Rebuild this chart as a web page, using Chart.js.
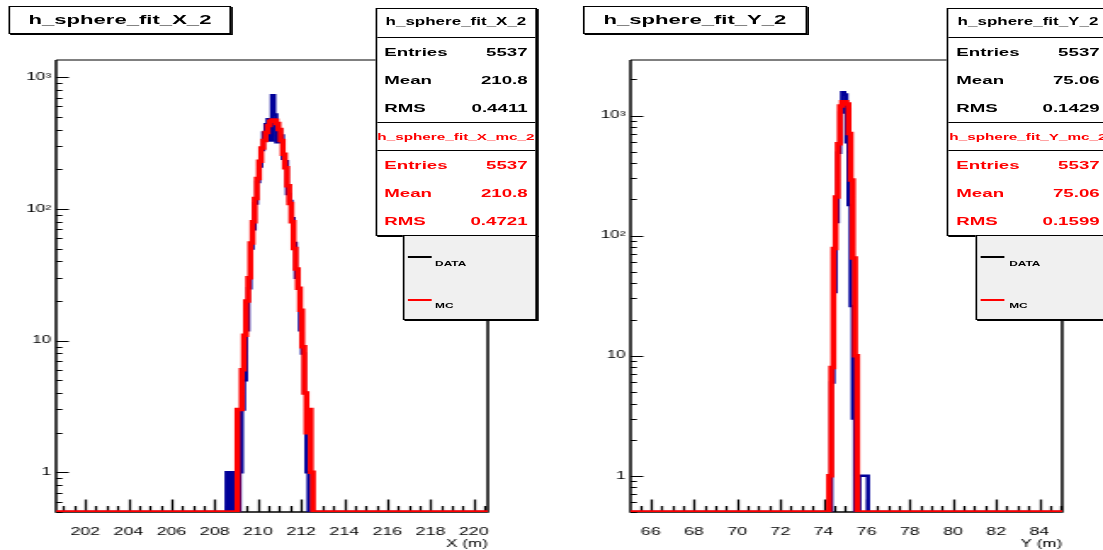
<!DOCTYPE html>
<html>
<head>
<meta charset="utf-8">
<script src="https://cdn.jsdelivr.net/npm/chart.js@4.4.1/dist/chart.umd.min.js"></script>
<style>
  html, body { margin: 0; padding: 0; background: #fff; overflow: hidden; }
  body { width: 1103px; height: 550px; position: relative; }
  /* the canvas is drawn narrow and stretched sideways, like the ROOT export */
  #page {
    position: absolute; left: 0; top: 0; width: 649px; height: 550px;
    transform-origin: 0 0; transform: scaleX(1.6995);
    font-family: "Liberation Sans", Arial, Helvetica, sans-serif; color: #000;
  }
  canvas { position: absolute; top: 0; }
  .title {
    position: absolute; top: 6px; height: 28px; box-sizing: border-box;
    background: #fff; border: 1px solid #000; box-shadow: 1px 1px 0 #000;
    font-weight: bold; font-size: 13px; line-height: 26px; text-align: center; white-space: nowrap;
  }
  .stats {
    position: absolute; top: 8px; width: 95.4px; height: 228px; box-sizing: border-box;
    background: #fff; border: 1px solid #000; box-shadow: 1px 1px 0 #000;
    font-weight: bold; white-space: nowrap;
  }
  .stats .head { position: absolute; left: -20px; right: -20px; text-align: center; line-height: 14px; }
  .stats .row {
    position: absolute; left: 4.5px; right: 4.5px; display: flex; justify-content: space-between;
    font-size: 11px; line-height: 14px;
  }
  .stats .sep { position: absolute; left: 0; right: 0; border-top: 1px solid #000; }
  .mc { color: #ff0000; }
  .legend {
    position: absolute; top: 235px; width: 79.5px; height: 85px; box-sizing: border-box;
    background: #f0f0f0; border: 1px solid #000; box-shadow: 1px 1px 0 #000;
    font-weight: bold; font-size: 7px;
  }
  .legend .mark { position: absolute; left: 2px; width: 14px; height: 1.5px; background: #000; }
  .legend .mark.red { background: #ff0000; }
  .legend .label { position: absolute; left: 18.5px; line-height: 8px; }
</style>
</head>
<body>
<div id="page">
  <canvas id="padX" width="325" height="550" style="left:0"></canvas>
  <canvas id="padY" width="324" height="550" style="left:325px"></canvas>

  <div class="title" style="left:4.7px; width:131.8px">h_sphere_fit_X_2</div>
  <div class="title" style="left:343px; width:131.8px">h_sphere_fit_Y_2</div>

  <div class="stats" style="left:220.6px">
    <div class="head" style="top:6px; font-size:10px">h_sphere_fit_X_2</div>
    <div class="sep" style="top:28px"></div>
    <div class="row" style="top:36px"><span>Entries</span><span>5537</span></div>
    <div class="row" style="top:64px"><span>Mean</span><span>210.8</span></div>
    <div class="row" style="top:92px"><span>RMS</span><span>0.4411</span></div>
    <div class="sep" style="top:113px"></div>
    <div class="head mc" style="top:121px; font-size:9px">h_sphere_fit_X_mc_2</div>
    <div class="sep" style="top:141px"></div>
    <div class="row mc" style="top:149px"><span>Entries</span><span>5537</span></div>
    <div class="row mc" style="top:177px"><span>Mean</span><span>210.8</span></div>
    <div class="row mc" style="top:205px"><span>RMS</span><span>0.4721</span></div>
  </div>
  <div class="legend" style="left:236.5px">
    <div class="mark" style="top:20px"></div>
    <div class="label" style="top:24px">DATA</div>
    <div class="mark red" style="top:63px"></div>
    <div class="label" style="top:66px">MC</div>
  </div>

  <div class="stats" style="left:557.2px">
    <div class="head" style="top:6px; font-size:10px">h_sphere_fit_Y_2</div>
    <div class="sep" style="top:28px"></div>
    <div class="row" style="top:36px"><span>Entries</span><span>5537</span></div>
    <div class="row" style="top:64px"><span>Mean</span><span>75.06</span></div>
    <div class="row" style="top:92px"><span>RMS</span><span>0.1429</span></div>
    <div class="sep" style="top:113px"></div>
    <div class="head mc" style="top:121px; font-size:9px">h_sphere_fit_Y_mc_2</div>
    <div class="sep" style="top:141px"></div>
    <div class="row mc" style="top:149px"><span>Entries</span><span>5537</span></div>
    <div class="row mc" style="top:177px"><span>Mean</span><span>75.06</span></div>
    <div class="row mc" style="top:205px"><span>RMS</span><span>0.1599</span></div>
  </div>
  <div class="legend" style="left:574.3px">
    <div class="mark" style="top:20px"></div>
    <div class="label" style="top:24px">DATA</div>
    <div class="mark red" style="top:63px"></div>
    <div class="label" style="top:66px">MC</div>
  </div>
</div>

<script>
(() => {
    "use strict";

    // 200 bins of 0.1 m per histogram
    const binCount = 200;
    const xRange = [200.65, 220.65];
    const yRange = [65.06, 85.06];

    // non-empty bins only; everything outside is zero
    const xDataFirstBin = 80;
    const xDataCounts = [1, 0, 1, 0, 1, 0, 1, 3, 5, 12, 25, 50, 70, 110, 160, 210, 280, 380, 440, 480,
        330, 728, 520, 320, 400, 360, 240, 230, 130, 115, 85, 55, 30, 25, 12, 8, 4, 1];
    const xMcFirstBin = 85;
    const xMcCounts = [3, 3, 6, 11, 20, 30, 55, 80, 120, 170, 230, 290, 330, 380, 430, 462, 472, 470,
        445, 400, 330, 260, 205, 150, 110, 80, 50, 35, 25, 17, 9, 4, 2, 3, 1];

    const yDataFirstBin = 94;
    const yDataCounts = [6, 34, 130, 490, 1060, 1560, 1500, 600, 180, 26, 3, 0, 0, 1, 1, 1, 1];
    const yMcFirstBin = 93;
    const yMcCounts = [1, 8, 78, 210, 582, 1200, 1300, 1300, 1250, 708, 290, 65, 10];

    const xTickValues = [202, 204, 206, 208, 210, 212, 214, 216, 218, 220];
    const yTickValues = [66, 68, 70, 72, 74, 76, 78, 80, 82, 84];
    const countTicks = [1, 10, 100, 1000];
    const countTickText = ["1", "10", "10²", "10³"];

    const countMin = 0.5;
    const xCountMax = 1350;
    const yCountMax = 2900;

    const dataColor = "#000099";
    const mcColor = "#ff0000";
    const fontFamily = "'Liberation Sans', Arial, Helvetica, sans-serif";

    // outline points at bin edges; empty bins sit on the frame bottom like ROOT does on a log axis
    const histogramSteps = (range, firstBin, counts) => {
        const [low, high] = range;
        const width = (high - low) / binCount;
        const points = [];
        for (let i = 0; i < binCount; i++) {
            const c = counts[i - firstBin] ?? 0;
            points.push({ x: low + i * width, y: Math.max(c, countMin) });
        }
        points.push({ x: high, y: points[points.length - 1].y });
        return points;
    };

    const snap = (v) => Math.round(v) + 0.5;

    // frame and inward tick marks
    const frameTicks = {
        id: "frameTicks",
        beforeDatasetsDraw(chart) {
            const { ctx, chartArea: { left, right, top, bottom }, scales: { x, y } } = chart;
            ctx.save();
            ctx.strokeStyle = "#000";
            ctx.lineWidth = 1.3;
            ctx.beginPath();
            for (let k = Math.ceil(x.min * 2); k <= Math.floor(x.max * 2); k++) {
                const px = snap(x.getPixelForValue(k / 2));
                const len = k % 4 === 0 ? 12.5 : 6;
                ctx.moveTo(px, bottom);
                ctx.lineTo(px, bottom - len);
            }
            ctx.stroke();
            ctx.lineWidth = 1.2;
            ctx.beginPath();
            for (let d = Math.floor(Math.log10(y.min)); d <= Math.ceil(Math.log10(y.max)); d++) {
                for (let m = 1; m <= 9; m++) {
                    const v = m * Math.pow(10, d);
                    if (v < y.min || v > y.max) continue;
                    const py = snap(y.getPixelForValue(v));
                    ctx.moveTo(left, py);
                    ctx.lineTo(left + (m === 1 ? 7.5 : 3.7), py);
                }
            }
            ctx.stroke();

            ctx.lineWidth = 1.5;
            ctx.beginPath();
            ctx.moveTo(left, top);
            ctx.lineTo(left, bottom);
            ctx.lineTo(right, bottom);
            ctx.lineTo(right, top);
            ctx.stroke();
            ctx.lineWidth = 1;
            ctx.beginPath();
            ctx.moveTo(left, top);
            ctx.lineTo(right, top);
            ctx.stroke();
            ctx.restore();
        }
    };

    const makePad = (canvasId, cfg) => {
        new Chart(document.getElementById(canvasId), {
            type: "line",
            data: {
                datasets: [
                    {
                        label: "MC",
                        data: histogramSteps(cfg.range, cfg.mcFirst, cfg.mcCounts),
                        borderColor: mcColor,
                        borderWidth: 3.5,
                        stepped: "after",
                        pointRadius: 0,
                        order: 0
                    },
                    {
                        label: "DATA",
                        data: histogramSteps(cfg.range, cfg.dataFirst, cfg.dataCounts),
                        borderColor: dataColor,
                        borderWidth: 2.5,
                        stepped: "after",
                        pointRadius: 0,
                        order: 1
                    }
                ]
            },
            options: {
                responsive: false,
                animation: false,
                events: [],
                layout: { padding: { top: 60, right: cfg.padRight, left: 0, bottom: 0 } },
                plugins: {
                    legend: { display: false },
                    tooltip: { enabled: false }
                },
                scales: {
                    x: {
                        type: "linear",
                        min: cfg.range[0],
                        max: cfg.range[1],
                        afterFit: (scale) => { scale.height = 38; },
                        afterBuildTicks: (scale) => { scale.ticks = cfg.ticks.map((value) => ({ value })); },
                        grid: { display: false, drawTicks: false },
                        border: { display: false },
                        ticks: {
                            color: "#000",
                            padding: 14,
                            maxRotation: 0,
                            autoSkip: false,
                            font: { family: fontFamily, size: 10.5 }
                        },
                        title: {
                            display: true,
                            text: cfg.axisTitle,
                            align: "end",
                            color: "#000",
                            padding: 0,
                            font: { family: fontFamily, size: 10 }
                        }
                    },
                    y: {
                        type: "logarithmic",
                        min: countMin,
                        max: cfg.countMax,
                        afterFit: (scale) => { scale.width = cfg.axisLeft; },
                        afterBuildTicks: (scale) => { scale.ticks = countTicks.map((value) => ({ value })); },
                        grid: { display: false, drawTicks: false },
                        border: { display: false },
                        ticks: {
                            color: "#000",
                            padding: 3,
                            autoSkip: false,
                            font: { family: fontFamily, size: 10 },
                            callback: (value) => countTickText[countTicks.indexOf(value)] ?? ""
                        }
                    }
                }
            },
            plugins: [frameTicks]
        });
    };

    makePad("padX", {
        range: xRange,
        dataFirst: xDataFirstBin,
        dataCounts: xDataCounts,
        mcFirst: xMcFirstBin,
        mcCounts: xMcCounts,
        ticks: xTickValues,
        countMax: xCountMax,
        axisTitle: "X (m)",
        axisLeft: 33,
        padRight: 38
    });

    makePad("padY", {
        range: yRange,
        dataFirst: yDataFirstBin,
        dataCounts: yDataCounts,
        mcFirst: yMcFirstBin,
        mcCounts: yMcCounts,
        ticks: yTickValues,
        countMax: yCountMax,
        axisTitle: "Y (m)",
        axisLeft: 46,
        padRight: 24
    });
})();
</script>
</body>
</html>
